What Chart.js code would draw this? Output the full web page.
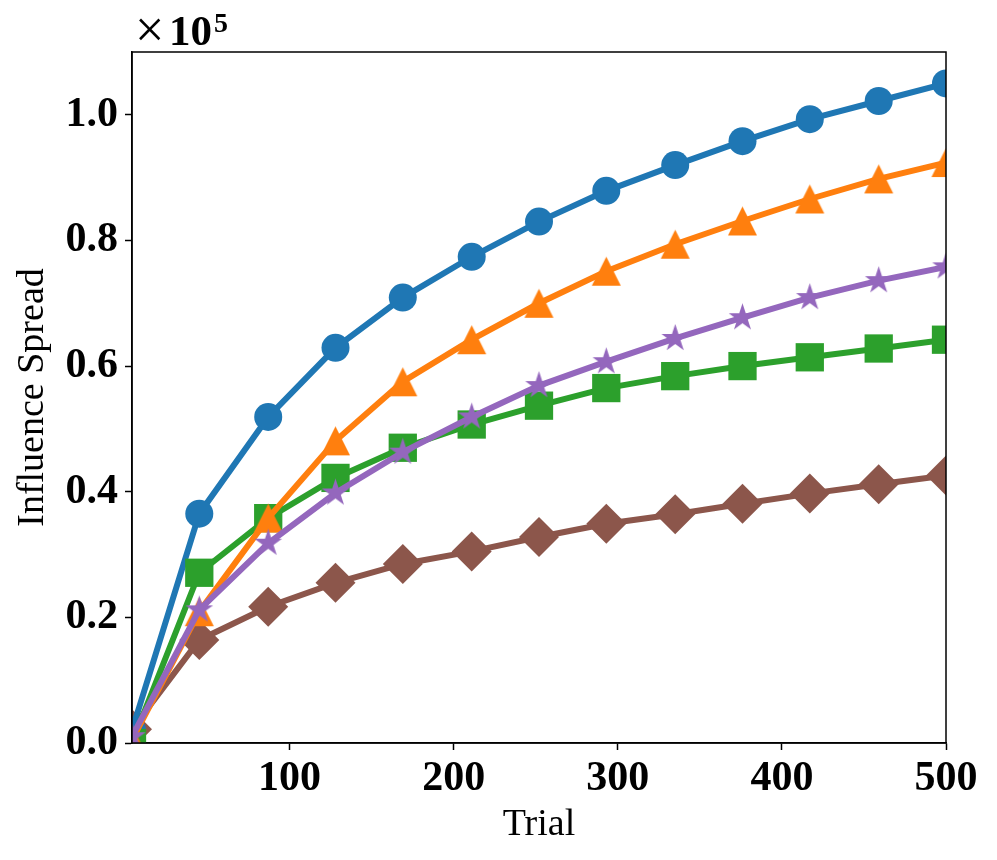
<!DOCTYPE html>
<html>
<head>
<meta charset="utf-8">
<script src="https://cdn.jsdelivr.net/npm/chart.js@4/dist/chart.umd.min.js"></script>
<style>
html,body{margin:0;padding:0;background:#fff;}
#wrap{width:997px;height:860px;}
</style>
</head>
<body>
<div id="wrap"><canvas id="c" width="997" height="860"></canvas></div>
<script>
// ---- data (values in units of influence spread) ----
const trials = [4, 45, 87, 128, 169, 211, 252, 293, 335, 376, 417, 459, 500];
const seriesBlue   = [2000, 36500, 51900, 62900, 70900, 77400, 83000, 87900, 92000, 95800, 99300, 102200, 105000];
const seriesOrange = [500, 20900, 35800, 48100, 57500, 64200, 70000, 75100, 79400, 83100, 86600, 89800, 92400];
const seriesGreen  = [0, 27100, 35800, 42200, 47000, 50700, 53700, 56500, 58400, 60000, 61400, 62800, 64200];
const seriesPurple = [1000, 21200, 31800, 39800, 46300, 51900, 56900, 60700, 64400, 67700, 70900, 73600, 75800];
const seriesBrown  = [2200, 16400, 21700, 25500, 28500, 30500, 32800, 34900, 36400, 38100, 39700, 41200, 42600];
const xTicks = [100, 200, 300, 400, 500];
const yTicks = [0, 20000, 40000, 60000, 80000, 100000];
const xLabel = 'Trial';
const yLabel = 'Influence Spread';

const C = {blue:'#1f77b4', orange:'#ff7f0e', green:'#2ca02c', purple:'#9467bd', brown:'#8c564b'};

function makeCanvas(size){ const c=document.createElement('canvas'); c.width=size; c.height=size; return c; }
function triangleMarker(color, ms){
  const s = Math.ceil(ms)+2; const c = makeCanvas(s); const g=c.getContext('2d');
  const cx=s/2, cy=s/2, h=ms/2;
  g.fillStyle=color; g.beginPath();
  g.moveTo(cx, cy-h); g.lineTo(cx-h, cy+h); g.lineTo(cx+h, cy+h); g.closePath(); g.fill();
  return c;
}
function starMarker(color, ms){
  const s = Math.ceil(ms)+2; const c = makeCanvas(s); const g=c.getContext('2d');
  const cx=s/2, cy=s/2, R=ms/2, r=R*0.381966;
  g.fillStyle=color; g.beginPath();
  for(let i=0;i<10;i++){
    const ang = -Math.PI/2 + i*Math.PI/5; const rr = i%2===0?R:r;
    const px = cx + rr*Math.cos(ang), py = cy + rr*Math.sin(ang);
    if(i===0) g.moveTo(px,py); else g.lineTo(px,py);
  }
  g.closePath(); g.fill();
  return c;
}

function mkData(vals){ return trials.map((t,i)=>({x:t, y:vals[i]})); }

const common = {borderWidth:6, tension:0, clip:0, pointBorderWidth:0, pointHoverRadius:0};
const datasets = [
  Object.assign({label:'purple', data:mkData(seriesPurple), borderColor:C.purple, backgroundColor:C.purple,
    pointStyle:starMarker(C.purple, 29), pointRadius:14}, common),
  Object.assign({label:'orange', data:mkData(seriesOrange), borderColor:C.orange, backgroundColor:C.orange,
    pointStyle:triangleMarker(C.orange, 29), pointRadius:14}, common),
  Object.assign({label:'green', data:mkData(seriesGreen), borderColor:C.green, backgroundColor:C.green,
    pointStyle:'rect', pointRadius:20}, common),
  Object.assign({label:'blue', data:mkData(seriesBlue), borderColor:C.blue, backgroundColor:C.blue,
    pointStyle:'circle', pointRadius:14}, common),
  Object.assign({label:'brown', data:mkData(seriesBrown), borderColor:C.brown, backgroundColor:C.brown,
    pointStyle:'rectRot', pointRadius:20}, common),
];

const framePlugin = {
  id:'frame',
  afterDraw(chart){
    const {ctx, chartArea:a} = chart;
    ctx.save();
    ctx.strokeStyle='#000'; ctx.lineWidth=1.5;
    ctx.strokeRect(a.left, a.top, a.right-a.left, a.bottom-a.top);
    // multiplier label
    ctx.fillStyle='#000';
    ctx.textBaseline='alphabetic'; ctx.textAlign='left';
    ctx.font='52px "Liberation Serif"';
    ctx.fillText('\u00d7', 135, 47);
    ctx.font='bold 43px "Liberation Serif"';
    ctx.fillText('10', 169, 45);
    const w10 = ctx.measureText('10').width;
    ctx.font='bold 28px "Liberation Serif"';
    ctx.fillText('5', 169+w10+2, 32);
    ctx.restore();
  }
};

const tickFont = {family:'"Liberation Serif"', size:42, weight:'bold'};
const titleFont = {family:'"Liberation Serif"', size:38, weight:'normal'};

new Chart(document.getElementById('c'), {
  type:'line',
  data:{datasets},
  options:{
    responsive:false, animation:false, devicePixelRatio:1,
    layout:{padding:{left:0, top:52, right:51, bottom:0}},
    plugins:{legend:{display:false}, tooltip:{enabled:false}},
    scales:{
      x:{
        type:'linear', min:4, max:500,
        afterBuildTicks(s){ s.ticks = xTicks.map(v=>({value:v})); },
        afterFit(s){ s.height = 117; },
        grid:{drawOnChartArea:false, drawTicks:true, tickLength:7, tickWidth:1.5, tickColor:'#000'},
        border:{display:true, color:'#000', width:1.5},
        ticks:{color:'#000', font:tickFont, padding:4, maxRotation:0, callback:(v)=>String(v)},
        title:{display:true, text:xLabel, color:'#000', font:titleFont, padding:{top:0,bottom:12}}
      },
      y:{
        type:'linear', min:0, max:110000,
        afterBuildTicks(s){ s.ticks = yTicks.map(v=>({value:v})); },
        afterFit(s){ s.width = 132; },
        grid:{drawOnChartArea:false, drawTicks:true, tickLength:7, tickWidth:1.5, tickColor:'#000'},
        border:{display:true, color:'#000', width:1.5},
        ticks:{color:'#000', font:tickFont, padding:7, callback:(v)=>(v/100000).toFixed(1)},
        title:{display:true, text:yLabel, color:'#000', font:titleFont, padding:{top:10,bottom:0}}
      }
    }
  },
  plugins:[framePlugin]
});
</script>
</body>
</html>
